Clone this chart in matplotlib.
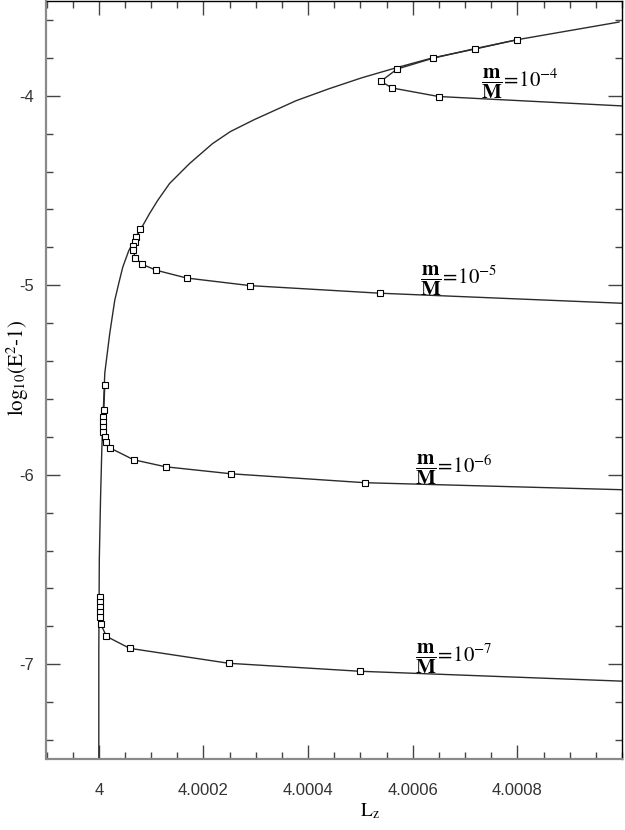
import matplotlib
matplotlib.use("Agg")
from matplotlib import pyplot as plt
from matplotlib import font_manager
from matplotlib.ticker import MultipleLocator, FixedLocator, FixedFormatter

plt.rcParams["font.family"] = "STIXGeneral"
plt.rcParams["mathtext.fontset"] = "stix"
plt.rcParams["axes.unicode_minus"] = False

# Data ─────────────────────────────────────────────────────────────────────────
# envelope (circular orbits)
env_lz = [4.0, 4.0, 4.00000095, 4.00000324, 4.00000571, 4.00000857, 4.00001143,
          4.00002095, 4.00003048, 4.00003810, 4.00004571, 4.00005714, 4.00007238,
          4.00009714, 4.00011238, 4.00013524, 4.00017333, 4.00021714, 4.00025143,
          4.00029714, 4.00037714, 4.00044, 4.00050286, 4.00056762, 4.0006381,
          4.00072, 4.0007981, 4.00099429]
env_le = [-7.5, -6.921, -6.447, -6.132, -5.868, -5.658, -5.463,
          -5.253, -5.079, -4.990, -4.905, -4.818, -4.742,
          -4.621, -4.553, -4.463, -4.358, -4.253, -4.189,
          -4.126, -4.026, -3.963, -3.905, -3.853, -3.800,
          -3.753, -3.705, -3.611]

# m/M = 1e-4
lz_4 = [4.0007987, 4.0007194, 4.0006387, 4.0005701, 4.000539, 4.0005606, 4.0006495, 4.0012]
le_4 = [-3.705, -3.751, -3.802, -3.859, -3.924, -3.959, -4.004, -4.082]

# m/M = 1e-5
lz_5 = [4.00007943, 4.00007048, 4.00006857, 4.00006533, 4.00006533, 4.0000699,
        4.00008248, 4.0001099, 4.0001682, 4.0002895, 4.0005371, 4.0012]
le_5 = [-4.705, -4.746, -4.772, -4.795, -4.816, -4.854,
        -4.889, -4.921, -4.962, -5.002, -5.042, -5.118]

# m/M = 1e-6
lz_6 = [4.00001143, 4.00000952, 4.00000819, 4.00000819, 4.00000819, 4.00000819,
        4.00001143, 4.00001467, 4.00002095, 4.00006667, 4.0001276, 4.0002533,
        4.0005086, 4.0012]
le_6 = [-5.526, -5.658, -5.695, -5.721, -5.747, -5.774,
        -5.800, -5.826, -5.858, -5.921, -5.958, -5.995,
        -6.042, -6.094]

# m/M = 1e-7
lz_7 = [4.0000019, 4.0000019, 4.0000019, 4.0000019, 4.0000019, 4.00000381,
        4.00001467, 4.00005905, 4.0002486, 4.000499, 4.0012]
le_7 = [-6.647, -6.674, -6.700, -6.726, -6.753, -6.789,
        -6.853, -6.916, -6.995, -7.037, -7.11]

labels = [r"$\dfrac{\mathbf{m}}{\mathbf{M}}\!=\!10^{-4}$",
          r"$\dfrac{\mathbf{m}}{\mathbf{M}}\!=\!10^{-5}$",
          r"$\dfrac{\mathbf{m}}{\mathbf{M}}\!=\!10^{-6}$",
          r"$\dfrac{\mathbf{m}}{\mathbf{M}}\!=\!10^{-7}$"]
label_lz = [4.0007314, 4.0006147, 4.0006052, 4.0006052]
label_le = [-3.937, -4.977, -5.970, -6.970]

xticks = [4.0, 4.0002, 4.0004, 4.0006, 4.0008]
xtick_labels = ["4", "4.0002", "4.0004", "4.0006", "4.0008"]
yticks = [-7, -6, -5, -4]
ytick_labels = ["-7", "-6", "-5", "-4"]

# Plot ─────────────────────────────────────────────────────────────────────────
names = {f.name for f in font_manager.fontManager.ttflist}
tick_font = "Liberation Sans Narrow" if "Liberation Sans Narrow" in names else "Liberation Sans"
tick_size = 14 if tick_font == "Liberation Sans Narrow" else 12

fig = plt.figure(figsize=(6.25, 8.3), dpi=100)
ax = fig.add_axes([46.5 / 625, 1 - 759 / 830, 575.5 / 625, 758 / 830])

line_col = "#2b2b2b"
ax.plot(env_lz, env_le, color=line_col, lw=1.0)
for lz, le in [(lz_4, le_4), (lz_5, le_5), (lz_6, le_6), (lz_7, le_7)]:
    ax.plot(lz, le, color=line_col, lw=1.0, marker="s", ms=4,
            mfc="white", mec="black", mew=0.8)

for txt, x, y in zip(labels, label_lz, label_le):
    ax.text(x, y, txt, fontsize=15, ha="left", va="center")

ax.set_xlim(3.9999, 4.001)
ax.set_ylim(-7.5, -3.5)

ax.xaxis.set_major_locator(FixedLocator(xticks))
ax.xaxis.set_major_formatter(FixedFormatter(xtick_labels))
ax.xaxis.set_minor_locator(MultipleLocator(0.00005))
ax.yaxis.set_major_locator(FixedLocator(yticks))
ax.yaxis.set_major_formatter(FixedFormatter(ytick_labels))
ax.yaxis.set_minor_locator(MultipleLocator(0.2))

ax.tick_params(which="both", direction="in", top=True, right=True, color="#444444")
ax.tick_params(which="major", length=10, width=1.0)
ax.tick_params(which="minor", length=5, width=1.0)
ax.tick_params(axis="x", pad=17)
ax.tick_params(axis="y", pad=9)
for lab in ax.get_xticklabels() + ax.get_yticklabels():
    lab.set_family(tick_font)
    lab.set_fontsize(tick_size)
    lab.set_color("#333333")

for side in ["left", "bottom"]:
    ax.spines[side].set_color("#8a8a8a")
    ax.spines[side].set_linewidth(1.6)
for side in ["top", "right"]:
    ax.spines[side].set_color("black")
    ax.spines[side].set_linewidth(1.0)

fig.text(18 / 625, 1 - 368 / 830, r"log$_{10}$(E$^2$-1)", rotation=90,
         ha="center", va="center", fontsize=15)
fig.text(370 / 625, 1 - 811 / 830, r"L$_\mathrm{z}$", ha="center", va="center", fontsize=14)

fig.savefig("out.png", dpi=100)
